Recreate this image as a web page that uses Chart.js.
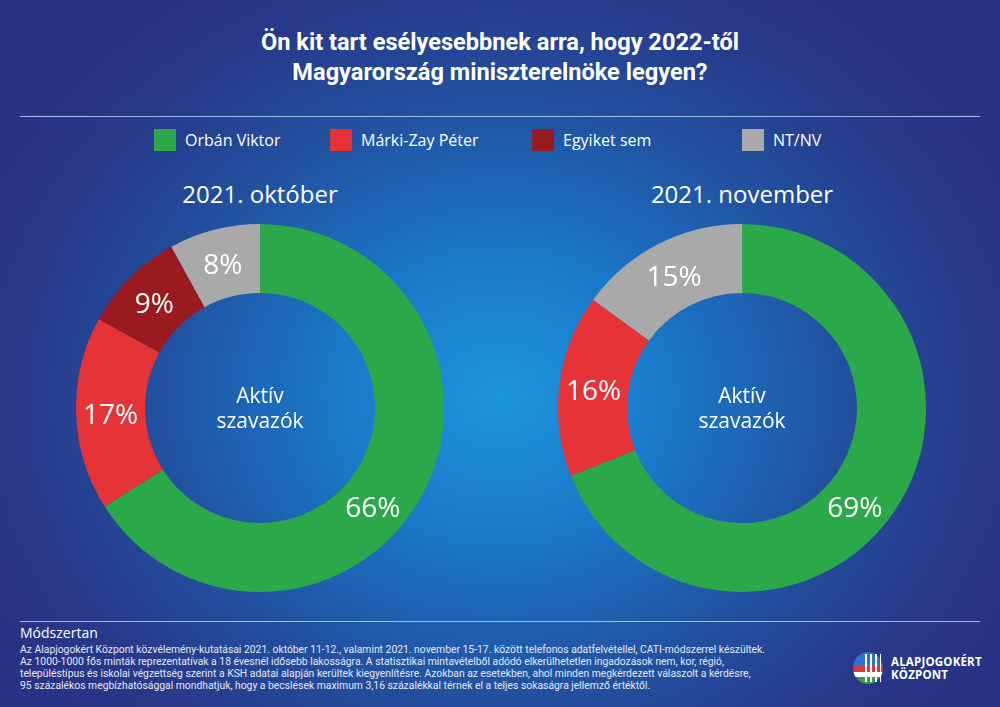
<!DOCTYPE html>
<html lang="hu">
<head>
<meta charset="utf-8">
<script src="https://cdn.jsdelivr.net/npm/chart.js@4.4.1/dist/chart.umd.min.js"></script>
<style>
  html, body { margin: 0; padding: 0; }
  body {
    width: 1000px; height: 707px; overflow: hidden; position: relative;
    font-family: "Open Sans", sans-serif; color: #fff;
    background: radial-gradient(ellipse 560px 480px at 50% 56%, #1c95dc 0%, #1a78c8 30%, #22509f 62%, #28398a 85%, #283385 100%);
  }
  .title {
    position: absolute; top: 27px; left: 0; width: 1000px; text-align: center;
    font-family: Roboto, sans-serif; font-weight: 700; font-size: 23.6px; line-height: 30px;
  }
  .rule { position: absolute; left: 20px; width: 960px; height: 1px; background: #9fc0ea; }
  .legend { position: absolute; top: 129px; left: 0; width: 1000px; height: 24px; }
  .legend .item { position: absolute; top: 0; display: flex; align-items: center; font-size: 16px; }
  .legend .sw { width: 22px; height: 22px; margin-right: 9px; }
  .sub { position: absolute; top: 177px; width: 400px; text-align: center; font-size: 24px; }
  .chartbox { position: absolute; top: 208px; width: 400px; height: 400px; }
  .foot-h { position: absolute; left: 20px; top: 623px; font-size: 14px; }
  .foot { position: absolute; left: 20px; top: 644px; font-family: Roboto, sans-serif; font-size: 10.35px; line-height: 12px; color: #e4e9f4; white-space: nowrap; }
  .logo { position: absolute; left: 853px; top: 652px; width: 140px; height: 34px; }
  .logo .ic { position: absolute; left: 0; top: 0; width: 30px; height: 32px; border-radius: 50%;
    background: linear-gradient(180deg, #2f6fd0 0%, #2f6fd0 45%, #d63a3a 45%, #d63a3a 62%, #ffffff 62%, #ffffff 78%, #3a9a48 78%); }
  .logo .ic:after { content: ""; position: absolute; left: 12px; top: 2px; width: 16px; height: 28px;
    background: repeating-linear-gradient(90deg, #fff 0 2px, transparent 2px 5px); }
  .logo .tx { position: absolute; left: 38px; top: 3px; font-family: "Open Sans", sans-serif; font-weight: 700; font-size: 11.5px; line-height: 13px; letter-spacing: 0.2px; }
</style>
</head>
<body>
<div class="title">Ön kit tart esélyesebbnek arra, hogy 2022-től<br>Magyarország miniszterelnöke legyen?</div>
<div class="rule" style="top:116px"></div>
<div class="legend" id="legend"></div>

<div class="sub" style="left:60px">2021. október</div>
<div class="sub" style="left:542px">2021. november</div>
<div class="chartbox" style="left:60px"><canvas id="octChart" width="400" height="400"></canvas></div>
<div class="chartbox" style="left:542px"><canvas id="novChart" width="400" height="400"></canvas></div>

<div class="rule" style="top:621px"></div>
<div class="foot-h">Módszertan</div>
<div class="foot">
Az Alapjogokért Központ közvélemény-kutatásai 2021. október 11-12., valamint 2021. november 15-17. között telefonos adatfelvétellel, CATI-módszerrel készültek.<br>
Az 1000-1000 fős minták reprezentatívak a 18 évesnél idősebb lakosságra. A statisztikai mintavételből adódó elkerülhetetlen ingadozások nem, kor, régió,<br>
településtípus és iskolai végzettség szerint a KSH adatai alapján kerültek kiegyenlítésre. Azokban az esetekben, ahol minden megkérdezett válaszolt a kérdésre,<br>
95 százalékos megbízhatósággal mondhatjuk, hogy a becslések maximum 3,16 százalékkal térnek el a teljes sokaságra jellemző értéktől.
</div>
<div class="logo"><div class="ic"></div><div class="tx">ALAPJOGOKÉRT<br>KÖZPONT</div></div>

<script>
const categories = ["Orbán Viktor", "Márki-Zay Péter", "Egyiket sem", "NT/NV"];
const octoberValues = [66, 17, 9, 8];
const novemberValues = [69, 16, 0, 15];
const colors = ["#2ba84a", "#e53337", "#9a1b1f", "#a9a9a9"];
const centerLines = ["Aktív", "szavazók"];

// legend (html)
const legendX = [154, 330, 532, 742];
const legendEl = document.getElementById("legend");
categories.forEach((c, i) => {
    const d = document.createElement("div");
    d.className = "item";
    d.style.left = legendX[i] + "px";
    d.innerHTML = '<span class="sw" style="background:' + colors[i] + '"></span>' + c;
    legendEl.appendChild(d);
});

// percent labels inside the ring + centre text
const ringLabels = {
    id: "ringLabels",
    afterDraw(chart, args, opts) {
        const ctx = chart.ctx;
        const meta = chart.getDatasetMeta(0);
        const values = chart.data.datasets[0].data;
        ctx.save();
        ctx.fillStyle = "#fff";
        ctx.textAlign = "center";
        ctx.textBaseline = "middle";
        ctx.font = "400 28px 'Open Sans'";
        meta.data.forEach((arc, i) => {
            if (!values[i]) return;
            const p = arc.getProps(["x", "y", "startAngle", "endAngle", "innerRadius", "outerRadius"], true);
            let a = (p.startAngle + p.endAngle) / 2;
            // the big green slice has its label pushed down, off the middle
            if (i === 0) a = -Math.PI / 2 + opts.firstAngle * Math.PI / 180;
            const r = (p.innerRadius + p.outerRadius) / 2;
            ctx.fillText(values[i] + "%", p.x + Math.cos(a) * r, p.y + Math.sin(a) * r + 3);
        });
        const c = meta.data[0];
        ctx.font = "400 21px 'Open Sans'";
        ctx.fillText(centerLines[0], c.x, c.y - 11);
        ctx.fillText(centerLines[1], c.x, c.y + 14);
        ctx.restore();
    }
};

function makeDonut(id, values) {
    return new Chart(document.getElementById(id), {
        type: "doughnut",
        data: {
            labels: categories,
            datasets: [{ data: values, backgroundColor: colors, borderWidth: 0 }],
        },
        options: {
            responsive: false,
            animation: false,
            cutout: "62.5%",
            layout: { padding: 16 },
            plugins: {
                legend: { display: false },
                tooltip: { enabled: false },
                ringLabels: { firstAngle: 131 },
            },
        },
        plugins: [ringLabels],
    });
}

makeDonut("octChart", octoberValues);
makeDonut("novChart", novemberValues);
</script>
</body>
</html>
